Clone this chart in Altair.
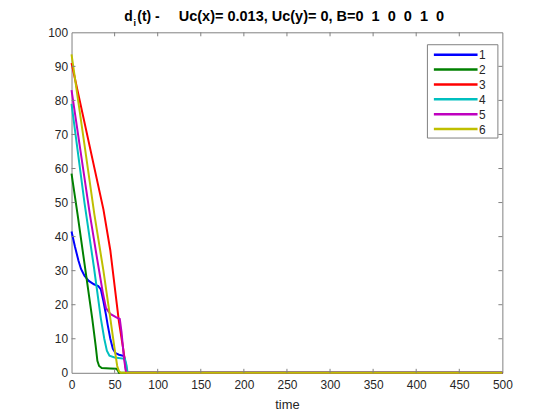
import altair as alt
import pandas as pd

# ---- data ----
series_names = ["1", "2", "3", "4", "5", "6"]
series_colors = ["#0000FF", "#008000", "#FF0000", "#00BFBF", "#BF00BF", "#BFBF00"]

t1 = [0, 4, 8, 11, 15, 20, 26, 31, 34, 37, 40, 42, 45, 48, 51, 55, 61, 62.5, 63, 64, 500]
d1 = [41.5, 37, 33, 30.5, 28.5, 27, 26, 25.5, 24.5, 21, 17, 14, 10, 7, 5.8, 5.3, 4.9, 3, 1, 0, 0]

t2 = [0, 7, 24, 28, 30, 32, 35, 45, 52, 54, 55, 500]
d2 = [58.5, 46.5, 16, 8, 3.5, 2, 1.4, 1.3, 1.2, 0.6, 0, 0]

t3 = [0, 37, 45, 55, 60, 63, 65, 500]
d3 = [91, 48, 36, 15, 7, 1.5, 0, 0]

t4 = [0, 15, 26, 34, 38, 41, 44, 50, 62, 64, 65, 500]
d4 = [79, 50, 31, 16, 10, 6.5, 5, 4.5, 4.1, 2, 0, 0]

t5 = [0, 21, 30, 36, 40, 45, 52, 56, 58, 61, 63, 64, 500]
d5 = [83, 47, 33, 24, 19, 17.3, 16.3, 15.8, 12, 4, 0.5, 0, 0]

t6 = [0, 15, 26.5, 37, 45, 50, 53, 55, 57, 500]
d6 = [93.5, 67, 46.5, 30, 16, 7, 2, 0.5, 0, 0]

x_ticks = [0, 50, 100, 150, 200, 250, 300, 350, 400, 450, 500]
y_ticks = [0, 10, 20, 30, 40, 50, 60, 70, 80, 90, 100]

title_d = "d"
title_sub = "i"
title_mid = "(t) -"
title_rest = "Uc(x)= 0.013, Uc(y)= 0, B=0\u00a0\u00a01\u00a0\u00a00\u00a0\u00a00\u00a0\u00a01\u00a0\u00a00"
x_title = "time"

# ---- build table ----
rows = []
for name, ts, ds in zip(series_names, [t1, t2, t3, t4, t5, t6], [d1, d2, d3, d4, d5, d6]):
    for t, d in zip(ts, ds):
        rows.append({"series": name, "t": t, "d": d})
df = pd.DataFrame(rows)

W, H = 434, 343
GRAY = "#808080"
TXT = "#262626"
FONT = "Liberation Sans"

xscale = alt.Scale(domain=[0, 500], nice=False, zero=False)
yscale = alt.Scale(domain=[0, 100], nice=False, zero=False)

x_axis = alt.Axis(values=x_ticks, title=x_title, ticks=False, domain=False, grid=False,
                  labelPadding=7, labelFontSize=12, labelColor=TXT, labelFont=FONT,
                  titleFontSize=13, titleFont=FONT, titleColor=TXT, titleFontWeight="normal",
                  titlePadding=8, labelFlush=False)
y_axis = alt.Axis(values=y_ticks, title=None, ticks=False, domain=False, grid=False,
                  labelPadding=4, labelFontSize=12, labelColor=TXT, labelFont=FONT,
                  labelFlush=False)

lines = alt.Chart(df).mark_line(strokeWidth=2, clip=False).encode(
    x=alt.X("t:Q", scale=xscale, axis=x_axis, title=x_title),
    y=alt.Y("d:Q", scale=yscale, axis=y_axis, title=None),
    color=alt.Color("series:N", scale=alt.Scale(domain=series_names, range=series_colors), legend=None),
    order=alt.Order("t:Q"),
)

xt = pd.DataFrame({"v": x_ticks[1:-1]})
yt = pd.DataFrame({"v": y_ticks[1:-1]})

tick_b = alt.Chart(xt).mark_rule(color=GRAY).encode(
    x=alt.X("v:Q", scale=xscale, axis=x_axis, title=x_title), y=alt.value(H), y2=alt.value(H - 4))
tick_t = alt.Chart(xt).mark_rule(color=GRAY).encode(
    x=alt.X("v:Q", scale=xscale, axis=x_axis, title=x_title), y=alt.value(0), y2=alt.value(4))
tick_l = alt.Chart(yt).mark_rule(color=GRAY).encode(
    y=alt.Y("v:Q", scale=yscale, axis=y_axis, title=None), x=alt.value(0), x2=alt.value(4))
tick_r = alt.Chart(yt).mark_rule(color=GRAY).encode(
    y=alt.Y("v:Q", scale=yscale, axis=y_axis, title=None), x=alt.value(W), x2=alt.value(W - 4))

# ---- legend ----
one = pd.DataFrame({"a": [0]})
legend_layers = [
    alt.Chart(one).mark_rect(fill="white", stroke=GRAY, strokeWidth=1).encode(
        x=alt.value(358.5), x2=alt.value(429.5), y=alt.value(12.5), y2=alt.value(106.5))
]
for i, (name, col) in enumerate(zip(series_names, series_colors)):
    yy = 22.5 + 15 * i
    legend_layers.append(alt.Chart(one).mark_rule(strokeWidth=2.5, color=col).encode(
        x=alt.value(365), x2=alt.value(409), y=alt.value(yy)))
    legend_layers.append(alt.Chart(one).mark_text(align="left", baseline="middle", fontSize=12,
                                                   font=FONT, color=TXT).encode(
        x=alt.value(410.5), y=alt.value(yy + 0.5), text=alt.value(name)))

# ---- title ----
def ttext(txt, x, y, size):
    return alt.Chart(one).mark_text(align="left", baseline="alphabetic", fontSize=size,
                                    fontWeight="bold", font=FONT, color="#000000").encode(
        x=alt.value(x), y=alt.value(y), text=alt.value(txt))

title_layers = [
    ttext(title_d, 53, -11, 14),
    ttext(title_sub, 62.3, -6, 9),
    ttext(title_mid, 66.3, -11, 14),
    ttext(title_rest, 108, -11, 14.6),
]

chart = alt.layer(
    lines, tick_b, tick_t, tick_l, tick_r, *legend_layers, *title_layers
).properties(
    width=W, height=H,
    autosize=alt.AutoSizeParams(type="none"),
    padding={"left": 64, "top": 23, "right": 50, "bottom": 40},
).configure_view(stroke=GRAY, strokeWidth=1)

chart.save("out.html", embed_options={"renderer": "svg", "actions": False})
